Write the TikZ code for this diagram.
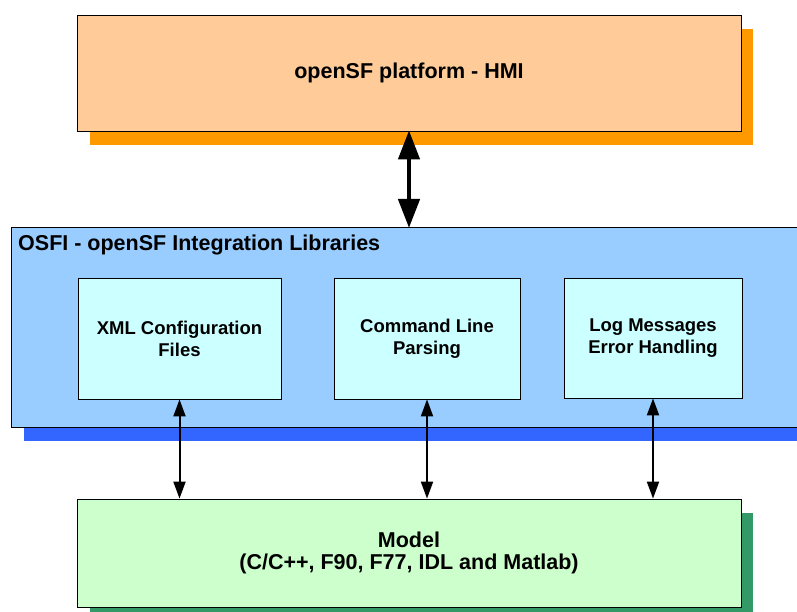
\documentclass[tikz,border=0pt]{standalone}
\usepackage{fontspec}
\setmainfont{Liberation Sans}
\usetikzlibrary{arrows.meta}
\definecolor{orfill}{HTML}{FFCC99}
\definecolor{orshad}{HTML}{FF9900}
\definecolor{blfill}{HTML}{99CCFF}
\definecolor{blshad}{HTML}{3366FF}
\definecolor{cyfill}{HTML}{CCFFFF}
\definecolor{grfill}{HTML}{CCFFCC}
\definecolor{grshad}{HTML}{339966}
\tikzset{
  box/.style={draw=black, line width=0.8pt, inner sep=0pt, font=\bfseries\fontsize{21.5}{22}\selectfont, align=center},
  smallbox/.style={box, fill=cyfill, font=\bfseries\fontsize{18.5}{22}\selectfont},
  bigarrow/.style={line width=4.5pt, {Triangle[width=21pt,length=29pt]}-{Triangle[width=21pt,length=29pt]}, shorten <=-1pt, shorten >=-1pt},
  smallarrow/.style={line width=2pt, {Triangle[width=12pt,length=17pt]}-{Triangle[width=12pt,length=17pt]}}
}
\begin{document}
\begin{tikzpicture}[x=1pt,y=-1pt]
\useasboundingbox (0,0) rectangle (797,612);
\clip (0,0) rectangle (797,612);
% shadows
\fill[orshad] (90,29) rectangle (753,145);
\fill[blshad] (24,240) rectangle (820,441);
\fill[grshad] (90,513) rectangle (753,625);
% main boxes
\node[box, fill=orfill, minimum width=664pt, minimum height=116pt] (hmi) at (409,73) {openSF platform - HMI};
\node[box, fill=blfill, minimum width=800pt, minimum height=200pt, anchor=north west] (osfi) at (11,227) {};
\node[font=\bfseries\fontsize{21.5}{22}\selectfont, anchor=west, inner sep=0pt] (osfititle) at (18,245) {OSFI - openSF Integration Libraries};
\node[smallbox, minimum width=203pt, minimum height=121pt] (xml) at (179.5,338.5) {XML Configuration\\Files};
\node[smallbox, minimum width=186pt, minimum height=121pt] (cmd) at (427,338.5) {Command Line\\Parsing};
\node[smallbox, minimum width=178pt, minimum height=120pt] (log) at (653,338) {Log Messages\\Error Handling};
\node[box, fill=grfill, minimum width=664pt, minimum height=108pt] (model) at (409,553) {Model\\(C/C++, F90, F77, IDL and Matlab)};
% arrows
\draw[bigarrow] (hmi.south) -- (hmi.south |- osfi.north);
\draw[smallarrow] (xml.south) -- (xml.south |- model.north);
\draw[smallarrow] (cmd.south) -- (cmd.south |- model.north);
\draw[smallarrow] (log.south) -- (log.south |- model.north);
\end{tikzpicture}
\end{document}
